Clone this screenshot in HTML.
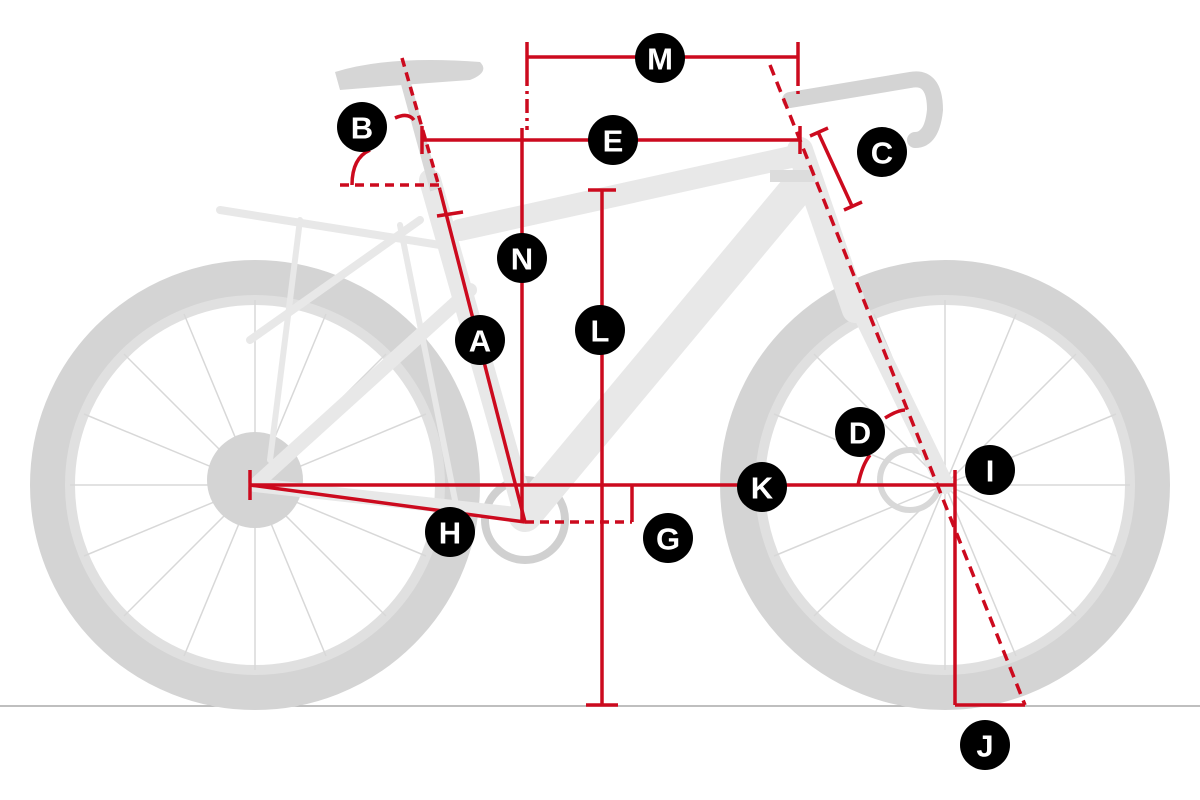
<!DOCTYPE html>
<html><head><meta charset="utf-8"><style>
html,body{margin:0;padding:0;background:#fff;}
svg{display:block;}
.lbl{font-family:"Liberation Sans",sans-serif;font-weight:bold;font-size:31px;fill:#fff;text-anchor:middle;dominant-baseline:central;}
</style></head><body>
<svg width="1200" height="800" viewBox="0 0 1200 800" xmlns="http://www.w3.org/2000/svg">
<rect width="1200" height="800" fill="#fff"/>
<line x1="0" y1="706" x2="1200" y2="706" stroke="#aaa" stroke-width="1.5"/>
<g fill="none">
  <circle cx="255" cy="485" r="207" stroke="#d4d4d4" stroke-width="36"/>
  <circle cx="255" cy="485" r="185" stroke="#e0e0e0" stroke-width="10"/>
  <circle cx="945" cy="485" r="207" stroke="#d4d4d4" stroke-width="36"/>
  <circle cx="945" cy="485" r="185" stroke="#e0e0e0" stroke-width="10"/>
</g>
<g stroke="#d8d8d8" stroke-width="1.5">
  <line x1="255" y1="300" x2="255" y2="670"/><line x1="70" y1="485" x2="440" y2="485"/>
  <line x1="124" y1="354" x2="386" y2="616"/><line x1="124" y1="616" x2="386" y2="354"/>
  <line x1="184" y1="314" x2="326" y2="656"/><line x1="326" y1="314" x2="184" y2="656"/>
  <line x1="84" y1="414" x2="426" y2="556"/><line x1="84" y1="556" x2="426" y2="414"/>
  <line x1="945" y1="300" x2="945" y2="670"/><line x1="760" y1="485" x2="1130" y2="485"/>
  <line x1="814" y1="354" x2="1076" y2="616"/><line x1="814" y1="616" x2="1076" y2="354"/>
  <line x1="874" y1="314" x2="1016" y2="656"/><line x1="1016" y1="314" x2="874" y2="656"/>
  <line x1="774" y1="414" x2="1116" y2="556"/><line x1="774" y1="556" x2="1116" y2="414"/>
</g>
<circle cx="255" cy="480" r="48" fill="#d4d4d4"/>
<circle cx="525" cy="520" r="40" fill="none" stroke="#d0d0d0" stroke-width="8"/>
<circle cx="910" cy="480" r="30" fill="none" stroke="#d8d8d8" stroke-width="6"/>
<g stroke="#e8e8e8" stroke-linecap="round" fill="none">
  <line x1="430" y1="180" x2="525" y2="515" stroke-width="22"/>
  <line x1="460" y1="230" x2="800" y2="155" stroke-width="22"/>
  <line x1="525" y1="515" x2="800" y2="185" stroke-width="34"/>
  <line x1="800" y1="150" x2="855" y2="310" stroke-width="26"/>
  <line x1="855" y1="300" x2="945" y2="485" stroke-width="18"/>
  <line x1="255" y1="485" x2="470" y2="290" stroke-width="14"/>
  <line x1="255" y1="485" x2="525" y2="515" stroke-width="14"/>
  <line x1="250" y1="340" x2="420" y2="220" stroke-width="8"/>
  <line x1="220" y1="210" x2="440" y2="245" stroke-width="8"/>
  <line x1="300" y1="220" x2="270" y2="460" stroke-width="6"/>
  <line x1="400" y1="225" x2="455" y2="500" stroke-width="6"/>
</g>
<path d="M335 72 Q390 55 480 62 Q490 72 470 80 Q400 85 340 90 Z" fill="#d6d6d6"/>
<line x1="405" y1="80" x2="435" y2="190" stroke="#d8d8d8" stroke-width="10"/>
<path d="M790 100 Q850 90 910 80 Q935 75 935 110 Q932 140 915 140" fill="none" stroke="#d4d4d4" stroke-width="16" stroke-linecap="round"/>
<rect x="770" y="170" width="45" height="12" fill="#dcdcdc"/>
<g stroke="#cc0a1e" stroke-width="3.5" fill="none">
  <line x1="527" y1="57" x2="798" y2="57"/>
  <line x1="527" y1="42" x2="527" y2="72"/><line x1="798" y1="42" x2="798" y2="72"/>
  <line x1="527" y1="72" x2="527" y2="130" stroke-dasharray="14,5,3,5"/>
  <line x1="798" y1="72" x2="798" y2="95" stroke-dasharray="14,5,3,5"/>
  <line x1="422" y1="140" x2="800" y2="140"/>
  <line x1="422" y1="126" x2="422" y2="154"/><line x1="800" y1="126" x2="800" y2="154"/>
  <line x1="522" y1="128" x2="522" y2="522"/>
  <line x1="402" y1="58" x2="440" y2="190" stroke-dasharray="9,6"/>
  <line x1="440" y1="190" x2="525" y2="522"/>
  <line x1="437" y1="216" x2="463" y2="212"/>
  <line x1="340" y1="185" x2="440" y2="185" stroke-dasharray="9,6"/>
  <path d="M352 185 Q352 158 370 150"/>
  <path d="M395 118 Q408 112 414 120"/>
  <line x1="770" y1="65" x2="1025" y2="705" stroke-dasharray="11,7"/>
  <line x1="818" y1="132" x2="852" y2="206"/>
  <line x1="810" y1="136" x2="828" y2="128"/><line x1="844" y1="210" x2="862" y2="202"/>
  <path d="M858 485 Q862 465 870 455"/>
  <path d="M885 418 Q898 410 905 410"/>
  <line x1="250" y1="485" x2="955" y2="485"/>
  <line x1="250" y1="470" x2="250" y2="500"/>
  <line x1="602" y1="190" x2="602" y2="705"/>
  <line x1="588" y1="190" x2="616" y2="190"/><line x1="586" y1="705" x2="618" y2="705"/>
  <line x1="250" y1="485" x2="525" y2="522"/>
  <line x1="525" y1="522" x2="632" y2="522" stroke-dasharray="9,6"/>
  <line x1="632" y1="485" x2="632" y2="522"/>
  <line x1="955" y1="470" x2="955" y2="705"/>
  <line x1="955" y1="705" x2="1025" y2="705"/>
</g>
<g>
  <circle cx="660" cy="58" r="25"/><text class="lbl" x="660" y="59">M</text>
  <circle cx="613" cy="140" r="25"/><text class="lbl" x="613" y="141">E</text>
  <circle cx="362" cy="127" r="25"/><text class="lbl" x="362" y="128">B</text>
  <circle cx="882" cy="152" r="25"/><text class="lbl" x="882" y="153">C</text>
  <circle cx="522" cy="258" r="25"/><text class="lbl" x="522" y="259">N</text>
  <circle cx="480" cy="340" r="25"/><text class="lbl" x="480" y="341">A</text>
  <circle cx="600" cy="330" r="25"/><text class="lbl" x="600" y="331">L</text>
  <circle cx="860" cy="432" r="25"/><text class="lbl" x="860" y="433">D</text>
  <circle cx="990" cy="470" r="25"/><text class="lbl" x="990" y="471">I</text>
  <circle cx="762" cy="487" r="25"/><text class="lbl" x="762" y="488">K</text>
  <circle cx="450" cy="532" r="25"/><text class="lbl" x="450" y="533">H</text>
  <circle cx="668" cy="538" r="25"/><text class="lbl" x="668" y="539">G</text>
  <circle cx="985" cy="745" r="25"/><text class="lbl" x="985" y="746">J</text>
</g>
</svg>
</body></html>
